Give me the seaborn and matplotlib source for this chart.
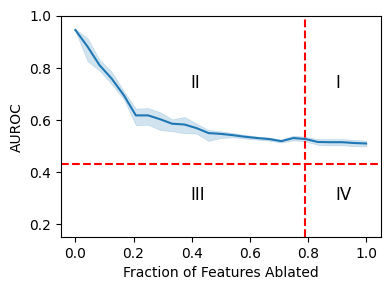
import numpy as np
import matplotlib
matplotlib.use("Agg")
import matplotlib.pyplot as plt
import seaborn as sns

# fraction of features ablated (25 steps)
fraction = [0.0, 0.042, 0.083, 0.125, 0.167, 0.208, 0.25, 0.292, 0.333, 0.375,
            0.417, 0.458, 0.5, 0.542, 0.583, 0.625, 0.667, 0.708, 0.75, 0.792,
            0.833, 0.875, 0.917, 0.958, 1.0]
auroc_mean = [0.946, 0.882, 0.811, 0.759, 0.695, 0.618, 0.618, 0.603, 0.586, 0.583,
              0.569, 0.550, 0.547, 0.542, 0.536, 0.531, 0.527, 0.519, 0.531, 0.527,
              0.516, 0.515, 0.515, 0.512, 0.510]
auroc_low = [0.942, 0.826, 0.790, 0.738, 0.680, 0.580, 0.582, 0.562, 0.557, 0.550,
             0.548, 0.520, 0.531, 0.534, 0.529, 0.525, 0.521, 0.514, 0.522, 0.518,
             0.505, 0.503, 0.503, 0.500, 0.499]
auroc_high = [0.950, 0.914, 0.832, 0.785, 0.710, 0.644, 0.646, 0.630, 0.603, 0.612,
              0.586, 0.562, 0.557, 0.550, 0.543, 0.537, 0.533, 0.525, 0.540, 0.536,
              0.527, 0.527, 0.527, 0.524, 0.521]

x_cut = 0.79
y_cut = 0.433

quadrants = ["I", "II", "III", "IV"]
quad_x = [0.895, 0.395, 0.395, 0.895]
quad_y = [0.743, 0.743, 0.312, 0.312]

fig, ax = plt.subplots(figsize=(3.9, 2.9), dpi=100)
sns.lineplot(x=fraction, y=auroc_mean, ax=ax, color="#1f77b4")
ax.fill_between(fraction, auroc_low, auroc_high, color="#1f77b4", alpha=0.2, linewidth=0.5)

ax.axvline(x_cut, color="red", linestyle="--")
ax.axhline(y_cut, color="red", linestyle="--")

for q, qx, qy in zip(quadrants, quad_x, quad_y):
    ax.text(qx, qy, q, fontsize=12, ha="left", va="center")

ax.set_ylim(0.15, 1.0)
ax.set_xlabel("Fraction of Features Ablated")
ax.set_ylabel("AUROC")

plt.subplots_adjust(left=0.156, right=0.976, top=0.945, bottom=0.182)
plt.savefig("out.png", dpi=100)
plt.close()
